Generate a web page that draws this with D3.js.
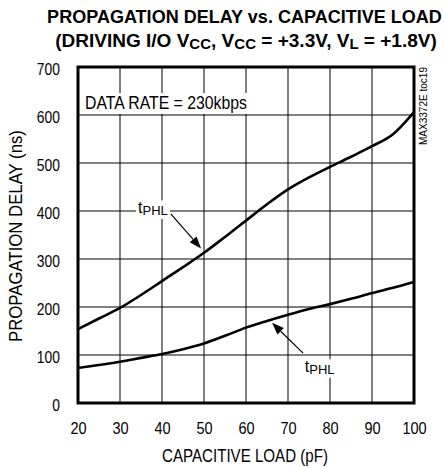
<!DOCTYPE html>
<html>
<head>
<meta charset="utf-8">
<script src="https://cdn.jsdelivr.net/npm/d3@7"></script>
<style>
  html, body { margin: 0; padding: 0; background: #fff; }
  svg { display: block; }
  text { font-family: "Liberation Sans", Arial, Helvetica, sans-serif; fill: #000; }
</style>
</head>
<body>
<svg id="chart" width="444" height="468"></svg>
<script>
// ---- data ----
const loadPF = [20, 25, 30, 35, 40, 45, 50, 55, 60, 65, 70, 75, 80, 85, 90, 95, 100];
const delayUpper = [154, 176, 198, 225, 254, 283, 313, 346, 380, 414, 445, 470, 492, 513, 535, 560, 606];
const delayLower = [73, 79, 86, 94, 102, 112, 124, 140, 157, 171, 184, 196, 206, 217, 229, 240, 252];
const xTicks = [20, 30, 40, 50, 60, 70, 80, 90, 100];
const yTicks = [0, 100, 200, 300, 400, 500, 600, 700];
const titleLine1 = "PROPAGATION DELAY vs. CAPACITIVE LOAD";
const xTitle = "CAPACITIVE LOAD (pF)";
const yTitle = "PROPAGATION DELAY (ns)";
const noteText = "DATA RATE = 230kbps";
const tocText = "MAX3372E toc19";
// annotation anchors in data units: [label pF, label ns, tail pF, tail ns, tip pF, tip ns]
const annUpper = [34.3, 395, 42.1, 394, 49.3, 322];
const annLower = [74.0, 64, 73.6, 104, 66.2, 167];

const svg = d3.select("#chart");
const x = d3.scaleLinear().domain([20, 100]).range([78, 414]);
const y = d3.scaleLinear().domain([0, 700]).range([403, 67]);

function squeeze(sel, factor) {
  sel.each(function () {
    const w = this.getComputedTextLength();
    d3.select(this).attr("textLength", w * factor).attr("lengthAdjust", "spacingAndGlyphs");
  });
}
function fitGroup(g, node, targetW, ax) {
  const bb = node.getBBox();
  const k = targetW / bb.width;
  g.attr("transform", `translate(${ax},0) scale(${k},1) translate(${-ax},0)`);
}

// gridlines
svg.append("g").selectAll("line").data(yTicks).join("line")
  .attr("x1", x(20)).attr("x2", x(100))
  .attr("y1", d => y(d)).attr("y2", d => y(d))
  .attr("stroke", "#808080").attr("stroke-width", 2);
svg.append("g").selectAll("line").data(xTicks).join("line")
  .attr("x1", d => x(d)).attr("x2", d => x(d))
  .attr("y1", y(0)).attr("y2", y(700))
  .attr("stroke", "#000").attr("stroke-width", 1);

// axes tick labels
const yAxis = svg.append("g").attr("transform", `translate(${x(20) - 18},0)`)
  .call(d3.axisLeft(y).tickValues(yTicks).tickSize(0).tickPadding(0));
yAxis.select(".domain").remove();
yAxis.selectAll("text").attr("font-size", 16.5).attr("font-family", null).attr("dy", "0.45em");
squeeze(yAxis.selectAll("text"), 0.84);

const xAxis = svg.append("g").attr("transform", `translate(0,${y(0)})`)
  .call(d3.axisBottom(x).tickValues(xTicks).tickSize(0).tickPadding(0));
xAxis.select(".domain").remove();
xAxis.selectAll("text").attr("font-size", 16.5).attr("font-family", null).attr("dy", null).attr("y", 30.5);
squeeze(xAxis.selectAll("text"), 0.88);

// titles
const t1g = svg.append("g");
const t1 = t1g.append("text").attr("x", 244.5).attr("y", 23).attr("text-anchor", "middle")
  .attr("font-size", 19).attr("font-weight", "bold").text(titleLine1);
fitGroup(t1g, t1.node(), 395, 244.5);

const t2g = svg.append("g");
const t2 = t2g.append("text").attr("x", 246).attr("y", 47).attr("text-anchor", "middle")
  .attr("font-size", 19).attr("font-weight", "bold");
const parts = [["(DRIVING I/O V", 0], ["CC", 1], [", V", 0], ["CC", 1], [" = +3.3V, V", 0], ["L", 1], [" = +1.8V)", 0]];
let prevSub = 0;
parts.forEach(([s, sub]) => {
  const ts = t2.append("tspan").text(s);
  if (sub) ts.attr("font-size", 15);
  const dy = (sub - prevSub) * 2;
  if (dy) ts.attr("dy", dy);
  prevSub = sub;
});
fitGroup(t2g, t2.node(), 382, 246);

const xtg = svg.append("g");
const xt = xtg.append("text").attr("x", 245).attr("y", 462).attr("text-anchor", "middle")
  .attr("font-size", 17.5).text(xTitle);
fitGroup(xtg, xt.node(), 166, 245);

const ytOuter = svg.append("g").attr("transform", `translate(22,${(y(0) + y(700)) / 2 + 1}) rotate(-90)`);
const ytg = ytOuter.append("g");
const yt = ytg.append("text").attr("x", 0).attr("y", 0).attr("text-anchor", "middle")
  .attr("font-size", 17.5).text(yTitle);
fitGroup(ytg, yt.node(), 212, 0);

const tocOuter = svg.append("g").attr("transform", `translate(427,145) rotate(-90)`);
const tocT = tocOuter.append("text").attr("x", 0).attr("y", 0).attr("font-size", 11).text(tocText);
tocT.attr("textLength", 78).attr("lengthAdjust", "spacingAndGlyphs");

// note with white box
const ng = svg.append("g");
const nrect = ng.append("rect").attr("fill", "#fff");
const nt = ng.append("text").attr("x", 85).attr("y", 109).attr("font-size", 18).text(noteText);
fitGroup(ng, nt.node(), 162, 85);
{
  const bb = nt.node().getBBox();
  nrect.attr("x", bb.x - 4).attr("y", bb.y).attr("width", bb.width + 6).attr("height", y(600) - 1 - bb.y);
}

// curves
const line = d3.line().x(d => x(d[0])).y(d => y(d[1])).curve(d3.curveMonotoneX);
[delayUpper, delayLower].forEach(series => {
  svg.append("path").datum(loadPF.map((p, i) => [p, series[i]]))
    .attr("d", line).attr("fill", "none").attr("stroke", "#000").attr("stroke-width", 2.6)
    .attr("stroke-linejoin", "round");
});

// annotations
function annotate(a) {
  const [lx, ly, tx, ty, hx, hy] = a;
  const g = svg.append("g");
  const rect = g.append("rect").attr("fill", "#fff");
  const txt = g.append("text").attr("x", x(lx)).attr("y", y(ly)).attr("font-size", 16);
  txt.append("tspan").text("t");
  txt.append("tspan").attr("font-size", 13).attr("dy", 1.5).text("PHL");
  const bb = txt.node().getBBox();
  rect.attr("x", bb.x - 2).attr("y", bb.y + 1).attr("width", bb.width + 4).attr("height", bb.height);
  const x0 = x(tx), y0 = y(ty), x1 = x(hx), y1 = y(hy);
  const dx = x1 - x0, dy = y1 - y0, L = Math.hypot(dx, dy);
  const ux = dx / L, uy = dy / L;
  const hl = 12, hw = 4.5;
  const bx = x1 - ux * hl, by = y1 - uy * hl;
  g.append("line").attr("x1", x0).attr("y1", y0).attr("x2", bx).attr("y2", by)
    .attr("stroke", "#000").attr("stroke-width", 1.2);
  g.append("path")
    .attr("d", `M${x1},${y1}L${bx - uy * hw},${by + ux * hw}L${bx + uy * hw},${by - ux * hw}Z`)
    .attr("fill", "#000");
}
annotate(annUpper);
annotate(annLower);

// frame
svg.append("rect").attr("x", x(20)).attr("y", y(700))
  .attr("width", x(100) - x(20)).attr("height", y(0) - y(700))
  .attr("fill", "none").attr("stroke", "#000").attr("stroke-width", 3);
</script>
</body>
</html>
